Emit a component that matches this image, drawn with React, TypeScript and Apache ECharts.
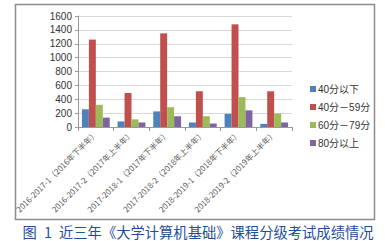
import React, { useEffect, useRef } from "react";
import * as echarts from "echarts";

const categories = [
  "2016-2017-1（2016年下半年）",
  "2016-2017-2（2017年上半年）",
  "2017-2018-1（2017年下半年）",
  "2017-2018-2（2018年上半年）",
  "2018-2019-1（2018年下半年）",
  "2018-2019-2（2019年上半年）",
];
const seriesNames = ["40分以下", "40分－59分", "60分－79分", "80分以上"];
const below40 = [255, 80, 225, 65, 190, 45];
const from40to59 = [1260, 490, 1350, 515, 1480, 515];
const from60to79 = [320, 110, 285, 155, 430, 195];
const above80 = [135, 65, 155, 50, 240, 65];
const colors = ["#4F81BD", "#C0504D", "#9BBB59", "#8064A2"];
const caption = "图\u20021\u2002近三年《大学计算机基础》课程分级考试成绩情况";

export default function App() {
  const ref = useRef<HTMLDivElement>(null);
  useEffect(() => {
    if (!ref.current) return;
    const chart = echarts.init(ref.current, null, { renderer: "svg" });
    const data = [below40, from40to59, from60to79, above80];
    chart.setOption({
      animation: false,
      backgroundColor: "#ffffff",
      color: colors,
      textStyle: { fontFamily: "Liberation Sans, Noto Sans CJK SC, sans-serif" },
      grid: { left: 78, right: 93, top: 16, bottom: 114, containLabel: false },
      legend: {
        orient: "vertical",
        left: 305,
        top: 78,
        itemWidth: 6,
        itemHeight: 6,
        itemGap: 6,
        icon: "rect",
        textStyle: { fontSize: 10, color: "#333", lineHeight: 12, padding: [0, 0, 0, -3] },
        data: seriesNames,
      },
      xAxis: {
        type: "category",
        data: categories,
        axisLine: { lineStyle: { color: "#999" } },
        axisTick: { show: true, length: 4, lineStyle: { color: "#999" } },
        axisLabel: {
          rotate: 45,
          fontSize: 8,
          color: "#595959",
          interval: 0,
          margin: 5,
          fontFamily: "Noto Sans CJK SC",
        },
      },
      yAxis: {
        type: "value",
        min: 0,
        max: 1600,
        interval: 200,
        axisLine: { show: true, lineStyle: { color: "#999" } },
        axisTick: { show: true, length: 3, lineStyle: { color: "#999" } },
        splitLine: { lineStyle: { color: "#d9d9d9" } },
        axisLabel: { fontSize: 10, color: "#333", margin: 6, formatter: (v: number) => String(v) },
      },
      series: seriesNames.map((name, i) => ({
        name,
        type: "bar",
        data: data[i],
        barGap: "0%",
        barCategoryGap: "22%",
        itemStyle: { color: colors[i] },
      })),
      graphic: [
        {
          type: "rect",
          shape: { x: 15.5, y: 4.5, width: 359, height: 215 },
          style: { fill: "none", stroke: "#8c8c8c", lineWidth: 1.5 },
          z: 100,
        },
        {
          type: "text",
          x: 198,
          y: 231,
          style: {
            text: caption,
            fontSize: 14.3,
            fill: "#1F4E9A",
            fontFamily: "Noto Sans CJK SC",
            align: "center",
            verticalAlign: "middle",
          },
        },
      ],
    });
    return () => chart.dispose();
  }, []);
  return (
    <div
      ref={ref}
      style={{ position: "fixed", left: 0, top: 0, width: 385, height: 241 }}
    />
  );
}
